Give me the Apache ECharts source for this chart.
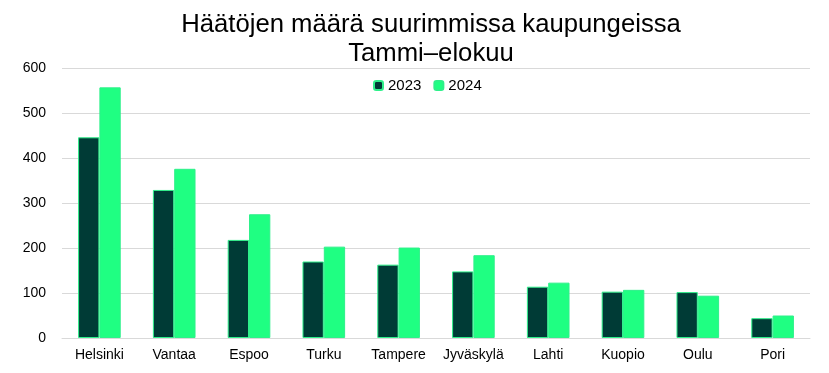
<!DOCTYPE html>
<html><head><meta charset="utf-8">
<script src="https://cdn.jsdelivr.net/npm/echarts@6/dist/echarts.min.js"></script>
<style>html,body{margin:0;padding:0;background:#fff}#c{width:829px;height:373px}</style>
</head><body><div id="c"></div>
<script>
const categories = ['Helsinki','Vantaa','Espoo','Turku','Tampere','Jyväskylä','Lahti','Kuopio','Oulu','Pori'];
const values2023 = [446, 329, 218, 170, 163, 148, 114, 103, 102, 44];
const values2024 = [557, 376, 275, 203, 201, 184, 123, 107, 94, 50];
const yTicks = [0, 100, 200, 300, 400, 500, 600];

const chart = echarts.init(document.getElementById('c'));
const font = 'Liberation Sans, Arial, sans-serif';
chart.setOption({
  animation: false,
  title: {
    text: 'Häätöjen määrä suurimmissa kaupungeissa\nTammi–elokuu',
    left: 426, top: 5, textAlign: 'center',
    textStyle: { fontFamily: font, fontSize: 25.7, fontWeight: 'normal', color: '#000', lineHeight: 29 }
  },
  legend: {
    data: ['2023', '2024'],
    left: 368, top: 73,
    itemWidth: 9, itemHeight: 9, itemGap: 12,
    textStyle: { fontFamily: font, fontSize: 15, color: '#000' }
  },
  grid: { left: 62, right: 19, top: 68, bottom: 35 },
  xAxis: {
    type: 'category', data: categories,
    axisTick: { show: false },
    axisLine: { lineStyle: { color: '#d9d9d9', width: 1 } },
    axisLabel: { interval: 0, fontFamily: font, fontSize: 14, color: '#000', margin: 10 }
  },
  yAxis: {
    type: 'value', min: yTicks[0], max: yTicks[yTicks.length - 1], interval: 100,
    axisLine: { show: false }, axisTick: { show: false },
    splitLine: { lineStyle: { color: '#d9d9d9', width: 1 } },
    axisLabel: { fontFamily: font, fontSize: 14, color: '#000', margin: 16 }
  },
  series: [
    { name: '2023', type: 'bar', data: values2023, barGap: '0%', barCategoryGap: '43%',
      itemStyle: { color: '#003B36', borderColor: '#2EF08A', borderWidth: 1 } },
    { name: '2024', type: 'bar', data: values2024,
      itemStyle: { color: '#1FFF82', borderColor: '#2EF08A', borderWidth: 1 } }
  ]
});
</script></body></html>
